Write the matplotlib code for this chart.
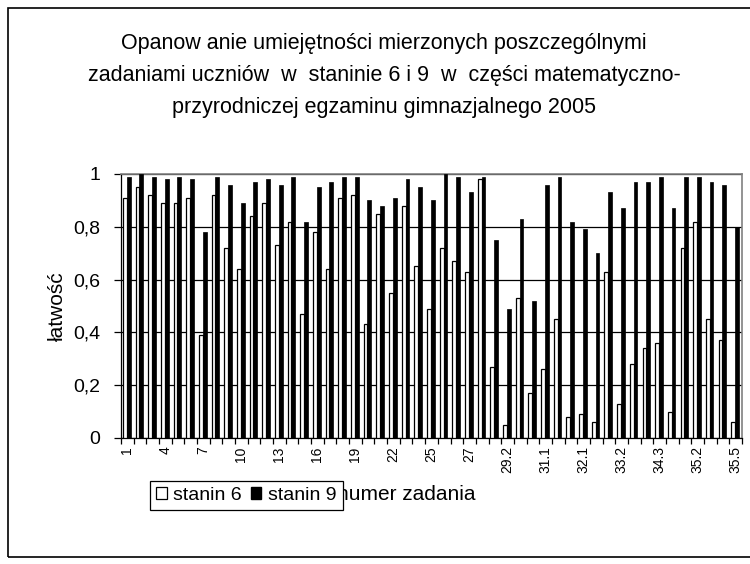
import numpy as np
import matplotlib
matplotlib.use("Agg")
import matplotlib.pyplot as plt
from matplotlib.patches import Rectangle, Patch

plt.rcParams['font.family'] = ['Liberation Sans', 'DejaVu Sans']

# task numbers (only every third one is printed on the axis)
zadania = [str(i) for i in range(1, 26)] + [
    "26.1", "26.2", "27", "28", "29.1", "29.2", "30.1", "30.2",
    "31.1", "31.2", "31.3", "32.1", "32.2", "33.1", "33.2",
    "34.1", "34.2", "34.3", "34.4", "35.1", "35.2", "35.3", "35.4", "35.5"]

stanin6 = [0.91, 0.95, 0.92, 0.89, 0.89, 0.91, 0.39, 0.92, 0.72, 0.64,
           0.84, 0.89, 0.73, 0.82, 0.47, 0.78, 0.64, 0.91, 0.92, 0.43,
           0.85, 0.55, 0.88, 0.65, 0.49, 0.72, 0.67, 0.63, 0.98, 0.27,
           0.05, 0.53, 0.17, 0.26, 0.45, 0.08, 0.09, 0.06, 0.63, 0.13,
           0.28, 0.34, 0.36, 0.10, 0.72, 0.82, 0.45, 0.37, 0.06]

stanin9 = [0.99, 1.00, 0.99, 0.98, 0.99, 0.98, 0.78, 0.99, 0.96, 0.89,
           0.97, 0.98, 0.96, 0.99, 0.82, 0.95, 0.97, 0.99, 0.99, 0.90,
           0.88, 0.91, 0.98, 0.95, 0.90, 1.00, 0.99, 0.93, 0.99, 0.75,
           0.49, 0.83, 0.52, 0.96, 0.99, 0.82, 0.79, 0.70, 0.93, 0.87,
           0.97, 0.97, 0.99, 0.87, 0.99, 0.99, 0.97, 0.96, 0.80]

W, H = 750, 564
fig = plt.figure(figsize=(W / 100, H / 100), dpi=100)

# outer chart border (right side runs off the picture)
fig.patches.append(Rectangle((8 / W, 1 - 557 / H), 760 / W, 549 / H,
                             transform=fig.transFigure, fill=False,
                             edgecolor='black', linewidth=1.2))

ax = fig.add_axes([121 / W, 1 - 438 / H, 621 / W, 264 / H])

x = np.arange(len(zadania))
bw = 0.3
ax.bar(x - 0.2, stanin6, width=bw, color='white', edgecolor='black',
       linewidth=0.9, label='stanin 6', zorder=3)
ax.bar(x + 0.1, stanin9, width=bw, color='black', edgecolor='black',
       linewidth=0.5, label='stanin 9', zorder=3)

ax.set_xlim(-0.5, len(zadania) - 0.5)
ax.set_ylim(0, 1)

ax.set_yticks(np.arange(0, 1.01, 0.2))
ax.set_yticklabels(['0', '0,2', '0,4', '0,6', '0,8', '1'], fontsize=14)
ax.yaxis.grid(True, color='black', linewidth=0.9, zorder=0)
ax.set_axisbelow(True)

ax.set_xticks(x[::3])
ax.set_xticklabels(zadania[::3], rotation=90, fontsize=10)
ax.set_xticks(np.arange(-0.5, len(zadania), 1), minor=True)
ax.tick_params(axis='x', which='major', length=0, pad=6)
ax.tick_params(axis='x', which='minor', length=4, width=0.9, direction='out')
ax.tick_params(axis='y', length=5, width=0.9, direction='out', pad=10)

for side in ['top', 'right']:
    ax.spines[side].set_color('#808080')
    ax.spines[side].set_linewidth(1.2)
for side in ['left', 'bottom']:
    ax.spines[side].set_color('black')
    ax.spines[side].set_linewidth(0.9)

ax.set_ylabel('łatwość', fontsize=15)
ax.yaxis.set_label_coords(-(121 - 67) / 621, 0.5)

fig.text(406 / W, 1 - 494 / H, 'numer zadania', fontsize=15,
         ha='center', va='center')

title_lines = ["Opanow anie umiejętności mierzonych poszczególnymi",
               "zadaniami uczniów  w  staninie 6 i 9  w  części matematyczno-",
               "przyrodniczej egzaminu gimnazjalnego 2005"]
for i, line in enumerate(title_lines):
    fig.text(384 / W, 1 - (43 + 32 * i) / H, line, fontsize=15.5,
             ha='center', va='center')

handles = [Patch(facecolor='white', edgecolor='black', linewidth=0.9),
           Patch(facecolor='black', edgecolor='black')]
leg = fig.legend(handles, ['stanin 6', 'stanin 9'], ncol=2,
                 loc='upper left', bbox_to_anchor=(150 / W, 1 - 481 / H),
                 fontsize=14, frameon=True, fancybox=False, framealpha=1,
                 edgecolor='black', handlelength=0.55, handleheight=0.55,
                 handletextpad=0.35, columnspacing=0.45, borderpad=0.3,
                 borderaxespad=0)
leg.get_frame().set_linewidth(0.9)
leg.set_zorder(10)

fig.savefig('out.png', dpi=100)
